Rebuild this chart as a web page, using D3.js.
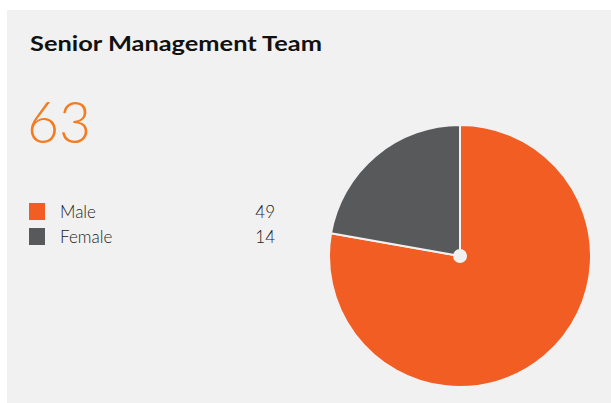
<!DOCTYPE html>
<html>
<head>
<meta charset="utf-8">
<script src="https://cdn.jsdelivr.net/npm/d3@7"></script>
<style>
  html, body { margin: 0; padding: 0; background: #ffffff; }
  svg { display: block; }
</style>
</head>
<body>
<svg id="chart" width="611" height="403"></svg>
<script>
// Headcount split for the senior management team
const title = "Senior Management Team";
const categories = ["Male", "Female"];
const values = [49, 14];
const colors = ["#f15d22", "#58595b"];

const total = d3.sum(values);
const svg = d3.select("#chart");
const bg = "#f1f1f1";

// Card background
svg.append("rect")
  .attr("x", 7).attr("y", 10)
  .attr("width", 604).attr("height", 393)
  .attr("fill", bg);

// Title
svg.append("text")
  .attr("x", 30).attr("y", 51)
  .attr("font-family", "Lato, 'Open Sans', sans-serif")
  .attr("font-weight", 700)
  .attr("font-size", 20)
  .attr("fill", "#111")
  .attr("textLength", 292)
  .attr("lengthAdjust", "spacingAndGlyphs")
  .text(title);

// Total
svg.append("text")
  .attr("x", 27).attr("y", 143)
  .attr("font-family", "Lato, 'Open Sans', sans-serif")
  .attr("font-weight", 300)
  .attr("font-size", 58)
  .attr("fill", "#f47b20")
  .attr("textLength", 64)
  .attr("lengthAdjust", "spacingAndGlyphs")
  .text(total);

// Legend
const legendY = d3.scaleBand().domain(categories).range([203, 253]);
const legend = svg.append("g").selectAll("g")
  .data(categories)
  .join("g")
  .attr("transform", d => `translate(0, ${legendY(d)})`);

legend.append("rect")
  .attr("x", 29).attr("y", 0)
  .attr("width", 16).attr("height", 17)
  .attr("fill", (d, i) => colors[i]);

legend.append("text")
  .attr("x", 60).attr("y", 15)
  .attr("font-family", "Lato, 'Open Sans', sans-serif")
  .attr("font-weight", 300)
  .attr("font-size", 17)
  .attr("fill", "#222")
  .text(d => d);

legend.append("text")
  .attr("x", 275).attr("y", 15)
  .attr("text-anchor", "end")
  .attr("font-family", "Lato, 'Open Sans', sans-serif")
  .attr("font-weight", 300)
  .attr("font-size", 17)
  .attr("fill", "#222")
  .text((d, i) => values[i]);

// Pie
const cx = 460, cy = 256, radius = 131;
const pie = d3.pie().sort(null).value(d => d)(values);
const arc = d3.arc().innerRadius(0).outerRadius(radius);

const g = svg.append("g").attr("transform", `translate(${cx},${cy})`);
g.selectAll("path")
  .data(pie)
  .join("path")
  .attr("d", arc)
  .attr("fill", (d, i) => colors[i])
  .attr("stroke", bg)
  .attr("stroke-width", 2)
  .attr("stroke-linejoin", "round");

g.append("circle")
  .attr("r", 7)
  .attr("fill", bg);
</script>
</body>
</html>
